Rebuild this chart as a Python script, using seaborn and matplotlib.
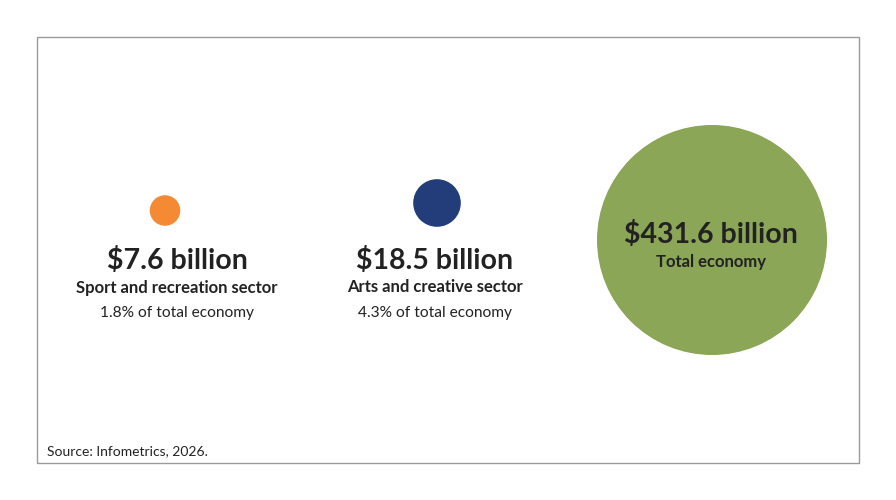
import matplotlib
matplotlib.use("Agg")
import matplotlib.pyplot as plt
import seaborn as sns
import pandas as pd
from matplotlib.patches import Rectangle

# data
sectors = ["Sport and recreation sector", "Arts and creative sector", "Total economy"]
values = [7.6, 18.5, 431.6]
value_labels = ["$7.6 billion", "$18.5 billion", "$431.6 billion"]
share_labels = ["1.8% of total economy", "4.3% of total economy", ""]
colors = ["#F58A35", "#233D7B", "#8AA656"]

# layout (pixel coords, y down)
circle_x = [165, 437, 712]
circle_y = [210.5, 203, 240]
text_x = [177, 435, 711]

W, H = 896, 500
fig = plt.figure(figsize=(W / 100, H / 100), dpi=100)
ax = fig.add_axes([0, 0, 1, 1])
ax.set_xlim(0, W)
ax.set_ylim(H, 0)
ax.axis("off")

df = pd.DataFrame({"x": circle_x, "y": circle_y, "value": values, "sector": sectors})

# bubble area proportional to value; largest has radius ~115 px
max_s = (2 * 115 * 0.72) ** 2
sns.scatterplot(data=df, x="x", y="y", size="value", hue="sector",
                palette=colors, sizes=(0, max_s), size_norm=(0, max(values)),
                linewidth=0, alpha=1, legend=False, ax=ax, zorder=2)

# frame
ax.add_patch(Rectangle((37, 37), 822, 426, fill=False, edgecolor="#9a9a9a", lw=1))

txt = "#222222"
family = ["Lato", "DejaVu Sans"]
for i in range(2):
    ax.text(text_x[i], 269, value_labels[i], ha="center", va="baseline",
            fontsize=20.5, fontweight="bold", color=txt, family=family, zorder=3)
    ax.text(text_x[i], 292.5, sectors[i], ha="center", va="baseline",
            fontsize=12, fontweight="bold", color=txt, family=family, zorder=3)
    ax.text(text_x[i], 317, share_labels[i], ha="center", va="baseline",
            fontsize=11.2, color=txt, family=family, zorder=3)

ax.text(text_x[2], 243, value_labels[2], ha="center", va="baseline",
        fontsize=20.5, fontweight="bold", color=txt, family=family, zorder=3)
ax.text(text_x[2], 267, sectors[2], ha="center", va="baseline",
        fontsize=12, fontweight="bold", color=txt, family=family, zorder=3)

ax.text(47, 455, "Source: Infometrics, 2026.", ha="left", va="baseline",
        fontsize=10, color=txt, family=family)

fig.savefig("out.png", dpi=100, facecolor="white")
